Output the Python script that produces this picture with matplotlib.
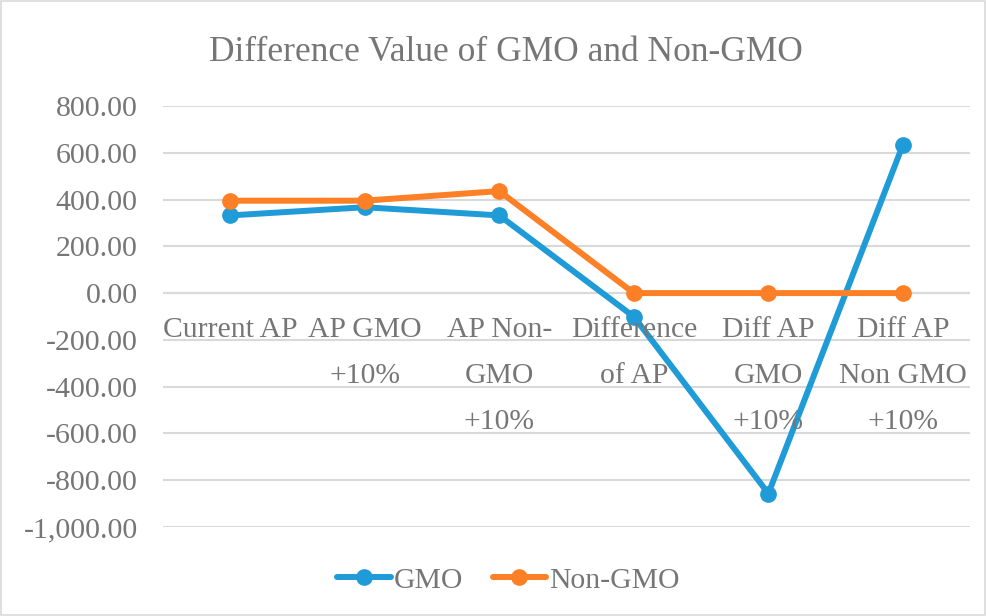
import numpy as np
import matplotlib
matplotlib.use("Agg")
import matplotlib.pyplot as plt
from matplotlib.ticker import FuncFormatter
from matplotlib.patches import Rectangle

categories = ["Current AP", "AP GMO\n+10%", "AP Non-\nGMO\n+10%", "Difference\nof AP",
              "Diff AP\nGMO\n+10%", "Diff AP\nNon GMO\n+10%"]
gmo = [332, 367, 332, -101, -857, 634]
non_gmo = [395, 395, 436, 0, 0, 0]

plt.rcParams['font.family'] = ['Liberation Serif', 'DejaVu Serif']
txt = '#767676'

fig = plt.figure(figsize=(9.87, 6.16), dpi=100)
ax = fig.add_axes([0.165, 0.1445, 0.818, 0.6835])

x = np.arange(len(categories))
ax.plot(x, gmo, color='#1f9bd7', lw=4.3, marker='o', ms=11, label='GMO',
        solid_capstyle='round', zorder=3)
ax.plot(x, non_gmo, color='#fd7f26', lw=4.3, marker='o', ms=11, label='Non-GMO',
        solid_capstyle='round', zorder=3)

ax.set_xlim(-0.5, len(categories) - 0.5)
ax.set_ylim(-1000, 800)
ax.set_yticks(np.arange(-1000, 801, 200))
ax.yaxis.set_major_formatter(FuncFormatter(lambda v, p: f"{v:,.2f}"))
ax.tick_params(axis='y', length=0, labelsize=21.5, labelcolor=txt, pad=18)
ax.set_xticks([])
ax.grid(axis='y', color='#d9d9d9', lw=1.5)
ax.set_axisbelow(True)
for s in ax.spines.values():
    s.set_visible(False)
ax.axhline(0, color='#d9d9d9', lw=1.5, zorder=1)

for xi, lab in zip(x, categories):
    ax.annotate(lab, (xi, 0), xytext=(0, -17), textcoords='offset points',
                ha='center', va='top', fontsize=21.3, color=txt, linespacing=2.0)

fig.text(0.513, 0.915, "Difference Value of GMO and Non-GMO", ha='center', va='center',
         fontsize=25.5, color=txt)

leg = fig.legend(loc='center', bbox_to_anchor=(0.515, 0.058), ncol=2, frameon=False,
                 fontsize=21.3, labelcolor=txt, handlelength=1.8, handletextpad=0.1,
                 columnspacing=1.0)

fig.patches.append(Rectangle((0.001, 0.001), 0.997, 0.997, transform=fig.transFigure,
                             fill=False, edgecolor='#d9d9d9', lw=1.2))

fig.savefig('out.png', dpi=100)
